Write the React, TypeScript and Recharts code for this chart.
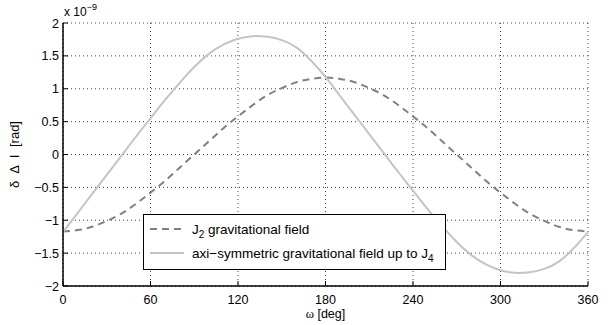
import React from 'react';
import { LineChart, Line, XAxis, YAxis, CartesianGrid, Legend } from 'recharts';

// argument of perigee [deg]
const omegaDeg = [
  0, 10, 20, 30, 40, 50, 60, 70, 80, 90, 100, 110, 120, 130, 140, 150, 160, 170, 180,
  190, 200, 210, 220, 230, 240, 250, 260, 270, 280, 290, 300, 310, 320, 330, 340, 350, 360,
];

// delta Delta I, units of 1e-9 rad
const j2Field = [
  -1.17, -1.15, -1.1, -1.01, -0.9, -0.75, -0.58, -0.4, -0.2, 0, 0.2, 0.4, 0.58, 0.75, 0.9, 1.01, 1.1, 1.15, 1.17,
  1.15, 1.1, 1.01, 0.9, 0.75, 0.58, 0.4, 0.2, 0, -0.2, -0.4, -0.58, -0.75, -0.9, -1.01, -1.1, -1.15, -1.17,
];
const axiField = [
  -1.18, -0.89, -0.6, -0.31, -0.02, 0.27, 0.55, 0.83, 1.09, 1.33, 1.53, 1.67, 1.76, 1.8, 1.79, 1.74, 1.63, 1.43, 1.18,
  0.89, 0.6, 0.31, 0.02, -0.27, -0.55, -0.83, -1.09, -1.33, -1.53, -1.67, -1.76, -1.8, -1.79, -1.74, -1.63, -1.43, -1.18,
];

const xTicks = [0, 60, 120, 180, 240, 300, 360];
const yTicks = [-2, -1.5, -1, -0.5, 0, 0.5, 1, 1.5, 2];

const seriesNames = ['J_2 gravitational field', 'axi\u2212symmetric gravitational field up to J_4'];

const data = omegaDeg.map((w, i) => ({ w, j2: j2Field[i], axi: axiField[i] }));

const FONT = '"Liberation Sans", Arial, Helvetica, sans-serif';
const TICK_LEN = 5;

const fmtY = (v: number) => (v < 0 ? '\u2212' + String(-v) : String(v));

// text like "J_2 ..." -> J with subscript 2
function withSub(label: string) {
  const parts = label.split(/_(\d)/);
  return parts.map((p, i) =>
    i % 2 === 1 ? (
      <sub key={i} style={{ fontSize: 10, verticalAlign: -4, lineHeight: 0 }}>{p}</sub>
    ) : (
      <span key={i}>{p}</span>
    )
  );
}

const BottomTick = (props: any) => {
  const { x, y, payload } = props;
  return (
    <g>
      <line x1={x} x2={x} y1={y} y2={y - TICK_LEN} stroke="#000" />
      <text x={x} y={y + 18} textAnchor="middle" fontSize={12.5} fontFamily={FONT} fill="#000">
        {payload.value}
      </text>
    </g>
  );
};

const TopTick = (props: any) => {
  const { x, y } = props;
  return <line x1={x} x2={x} y1={y} y2={y + TICK_LEN} stroke="#000" />;
};

const LeftTick = (props: any) => {
  const { x, y, payload } = props;
  return (
    <g>
      <line x1={x} x2={x + TICK_LEN} y1={y} y2={y} stroke="#000" />
      <text x={x - 4} y={y + 4.5} textAnchor="end" fontSize={12.5} fontFamily={FONT} fill="#000">
        {fmtY(payload.value)}
      </text>
    </g>
  );
};

const RightTick = (props: any) => {
  const { x, y } = props;
  return <line x1={x} x2={x - TICK_LEN} y1={y} y2={y} stroke="#000" />;
};

const LegendBox = (props: any) => {
  const { payload } = props;
  return (
    <div
      style={{
        width: 303,
        height: 56,
        boxSizing: 'border-box',
        border: '1px solid #000',
        background: '#fff',
        paddingTop: 2,
        fontFamily: FONT,
        fontSize: 13.5,
        color: '#000',
      }}
    >
      {(payload || []).map((entry: any, i: number) => (
        <div key={i} style={{ display: 'flex', alignItems: 'center', height: 24 }}>
          <svg width={48} height={10} style={{ flex: 'none' }}>
            <line
              x1={6}
              x2={40}
              y1={5}
              y2={5}
              stroke={entry.color}
              strokeWidth={2}
              strokeDasharray={entry.payload?.strokeDasharray}
            />
          </svg>
          <span style={{ whiteSpace: 'nowrap' }}>{withSub(String(entry.value))}</span>
        </div>
      ))}
    </div>
  );
};

export default function App() {
  return (
    <div style={{ position: 'absolute', left: 0, top: 0, width: 613, height: 325, background: '#fff' }}>
      <LineChart width={613} height={325} data={data} margin={{ top: 23, right: 25, bottom: 0, left: 0 }}>
        <CartesianGrid stroke="#444" strokeDasharray="1 3" vertical horizontal />
        <XAxis
          dataKey="w"
          type="number"
          domain={[0, 360]}
          ticks={xTicks}
          height={39}
          tickSize={0}
          tickMargin={0}
          tick={<BottomTick />}
          tickLine={false}
          axisLine={{ stroke: '#000', strokeWidth: 1.5 }}
          label={{
            content: (p: any) => {
              const vb = p.viewBox;
              return (
                <text
                  x={vb.x + vb.width / 2}
                  y={vb.y + 32}
                  textAnchor="middle"
                  fontSize={12.5}
                  fontFamily={FONT}
                  fill="#000"
                >
                  <tspan fontFamily='"Liberation Serif", "Times New Roman", serif'>ω</tspan> [deg]
                </text>
              );
            },
          }}
        />
        <XAxis
          xAxisId="top"
          orientation="top"
          dataKey="w"
          type="number"
          domain={[0, 360]}
          ticks={xTicks}
          height={0}
          tickSize={0}
          tickMargin={0}
          tick={<TopTick />}
          tickLine={false}
          axisLine={{ stroke: '#000', strokeWidth: 1.5 }}
        />
        <YAxis
          type="number"
          domain={[-2, 2]}
          ticks={yTicks}
          width={63}
          tickSize={0}
          tickMargin={0}
          tick={<LeftTick />}
          tickLine={false}
          axisLine={{ stroke: '#000', strokeWidth: 1.5 }}
          label={{
            content: (p: any) => {
              const vb = p.viewBox;
              const cx = vb.x + 19;
              const cy = vb.y + vb.height / 2;
              return (
                <text
                  x={cx}
                  y={cy}
                  transform={`rotate(-90 ${cx} ${cy})`}
                  textAnchor="middle"
                  fontSize={13}
                  fontFamily={FONT}
                  fill="#000"
                  style={{ wordSpacing: 4 }}
                >
                  δ Δ I [rad]
                </text>
              );
            },
          }}
        />
        <YAxis
          yAxisId="right"
          orientation="right"
          type="number"
          domain={[-2, 2]}
          ticks={yTicks}
          width={0}
          tickSize={0}
          tickMargin={0}
          tick={<RightTick />}
          tickLine={false}
          axisLine={{ stroke: '#000', strokeWidth: 1.5 }}
        />
        <Line
          type="natural"
          dataKey="j2"
          name={seriesNames[0]}
          stroke="#808080"
          strokeWidth={2}
          strokeDasharray="7 5"
          dot={false}
          activeDot={false}
          isAnimationActive={false}
        />
        <Line
          type="natural"
          dataKey="axi"
          name={seriesNames[1]}
          stroke="#c4c4c4"
          strokeWidth={2}
          dot={false}
          activeDot={false}
          isAnimationActive={false}
        />
        <Legend
          layout="vertical"
          align="center"
          verticalAlign="middle"
          content={<LegendBox />}
          wrapperStyle={{ left: 143, top: 214, width: 303, height: 56 }}
        />
      </LineChart>
      <div
        style={{
          position: 'absolute',
          left: 64,
          top: 5,
          fontFamily: FONT,
          fontSize: 12,
          color: '#000',
          whiteSpace: 'nowrap',
        }}
      >
        x 10<sup style={{ fontSize: 9, verticalAlign: 6, lineHeight: 0 }}>−9</sup>
      </div>
    </div>
  );
}
